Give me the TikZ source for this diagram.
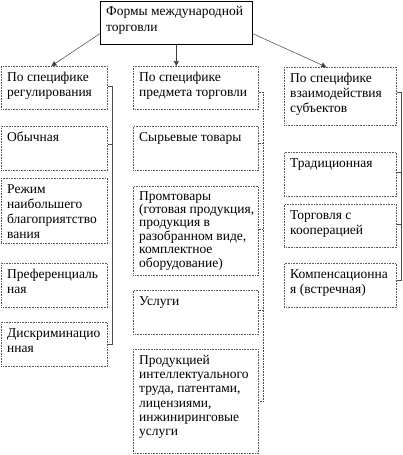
\documentclass[tikz,border=0pt]{standalone}
\usepackage{fontspec}
\setmainfont{Liberation Serif}
\newfontfamily\tnr{Liberation Serif}
\usetikzlibrary{arrows.meta,calc}
\tikzset{
 boxst/.style={draw=black!65, densely dotted, line width=0.6pt, inner sep=0pt, anchor=north west},
 topst/.style={draw=black, line width=0.6pt, inner sep=0pt, anchor=north west},
 txt/.style={inner sep=0pt, anchor=north west, align=left, font=\tnr\fontsize{13.5}{15}\selectfont, text=black},
 bus/.style={draw=black!70, line width=0.5pt},
 busdot/.style={draw=black!70, line width=0.6pt, densely dotted},
 arr/.style={draw=black!75, line width=0.5pt, -{Triangle[width=5pt,length=5pt]}},
}
\newcommand\mkbox[6]{%
 \node[boxst, minimum width=#4pt, minimum height=#5pt] (#1) at (#2,#3) {};
 \node[txt] (#1t) at ([xshift=6pt,yshift=-6pt]#1.north west) {#6};}
\begin{document}
\begin{tikzpicture}[x=1pt,y=-1pt]
\useasboundingbox (0,0) rectangle (403,455);
% top
\node[topst, minimum width=152pt, minimum height=43pt] (top) at (100,1) {};
\node[txt, font=\tnr\fontsize{13.5}{16.5}\selectfont] (topt) at ([xshift=6pt,yshift=-5pt]top.north west) {Формы международной\\торговли};
% column 1
\mkbox{a1}{1}{66}{106}{43}{По специфике\\регулирования}
\mkbox{a2}{1}{126}{106}{44}{Обычная}
\mkbox{a3}{1}{178}{106}{65}{Режим\\наибольшего\\благоприятство\\вания}
\mkbox{a4}{1}{263}{106}{44}{Преференциаль\\ная}
\mkbox{a5}{1}{322}{106}{44}{Дискриминацио\\нная}
% column 2
\mkbox{b1}{133}{66}{125}{43}{По специфике\\предмета торговли}
\mkbox{b2}{133}{126}{125}{44}{Сырьевые товары}
\node[boxst, minimum width=125pt, minimum height=89pt] (b3) at (133,186) {};
\node[txt, font=\tnr\fontsize{13.5}{13.4}\selectfont] (b3t) at ([xshift=6pt,yshift=-5pt]b3.north west) {Промтовары\\(готовая продукция,\\продукция в\\разобранном виде,\\комплектное\\оборудование)};
\mkbox{b4}{133}{290}{125}{44}{Услуги}
\node[boxst, minimum width=125pt, minimum height=104pt] (b5) at (133,349) {};
\node[txt, font=\tnr\fontsize{13.5}{14.2}\selectfont] (b5t) at ([xshift=6pt,yshift=-6pt]b5.north west) {Продукцией\\интеллектуального\\труда, патентами,\\лицензиями,\\инжиниринговые\\услуги};
% column 3
\mkbox{c1}{284}{67}{112}{58}{По специфике\\взаимодействия\\субъектов}
\mkbox{c2}{284}{152}{112}{44}{Традиционная}
\mkbox{c3}{284}{204}{112}{43}{Торговля с\\кооперацией}
\mkbox{c4}{284}{263}{112}{44}{Компенсационна\\я (встречная)}
% arrows
\draw[arr] ([yshift=11pt]top.south west) -- ([xshift=-3pt]a1.north);
\draw[arr] (top.south) -- (top.south |- b1.north);
\draw[arr] ([yshift=11pt]top.south east) -- ([xshift=-14pt]c1.north);
% buses
\coordinate (x1) at (112,0);
\coordinate (x2) at (263,0);
\coordinate (x3) at (401,0);
\draw[bus] ([yshift=2pt]a1.east) -- ([yshift=2pt]a1.east -| x1) -- (a5.east -| x1) -- (a5.east);
\draw[bus] ([yshift=4pt]a2.east) -- ([yshift=4pt]a2.east -| x1);
\draw[busdot] ([yshift=-4pt]b1.east) -- ([yshift=-4pt]b1.east -| x2) -- (b5.east -| x2) -- (b5.east);
\draw[busdot] ([yshift=5pt]b2.east) -- ([yshift=5pt]b2.east -| x2);
\draw[busdot] ([yshift=2pt]b3.east) -- ([yshift=2pt]b3.east -| x2);
\draw[busdot] ([yshift=2pt]b4.east) -- ([yshift=2pt]b4.east -| x2);
\draw[bus] ([yshift=4pt]c1.east) -- ([yshift=4pt]c1.east -| x3) -- ([yshift=5pt]c4.east -| x3) -- ([yshift=5pt]c4.east);
\draw[bus] ([yshift=2pt]c2.east) -- ([yshift=2pt]c2.east -| x3);
\draw[bus] ([yshift=2pt]c3.east) -- ([yshift=2pt]c3.east -| x3);
\end{tikzpicture}
\end{document}
